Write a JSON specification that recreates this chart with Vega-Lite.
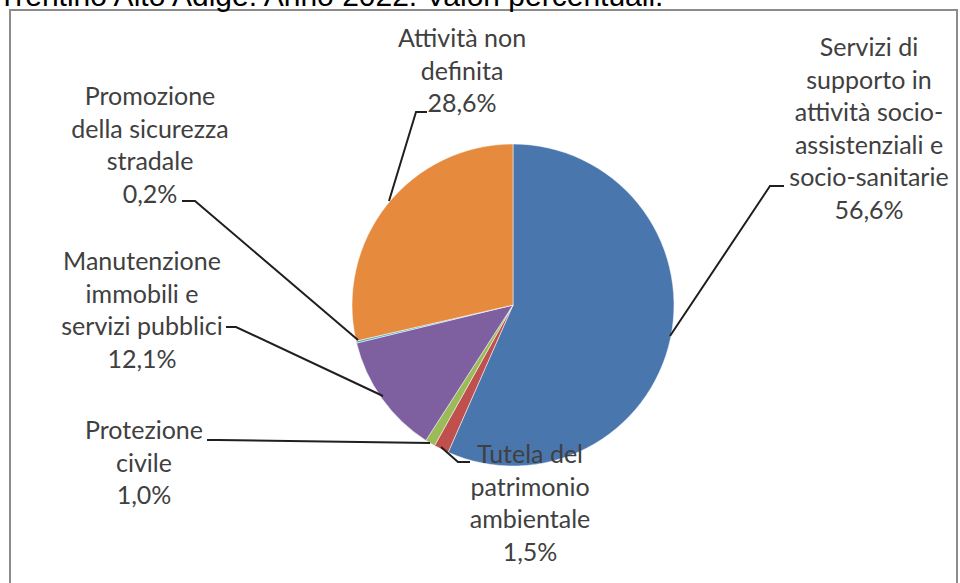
{
  "$schema": "https://vega.github.io/schema/vega-lite/v6.json",
  "autosize": "none",
  "width": 947,
  "height": 576,
  "padding": {"left": 10, "top": 10, "right": 3, "bottom": -3},
  "background": "white",
  "config": {"view": {"stroke": "#8c8c8c", "strokeWidth": 2}},
  "datasets": {
    "heading": [
      {"text": "Trentino Alto Adige. Anno 2022. Valori percentuali.", "tx": -515, "ty": -299}
    ],
    "shares": [
      {"category": "Servizi di supporto in attività socio-assistenziali e socio-sanitarie", "value": 56.6, "rank": 1},
      {"category": "Tutela del patrimonio ambientale", "value": 1.5, "rank": 2},
      {"category": "Protezione civile", "value": 1.0, "rank": 3},
      {"category": "Manutenzione immobili e servizi pubblici", "value": 12.1, "rank": 4},
      {"category": "Promozione della sicurezza stradale", "value": 0.2, "rank": 5},
      {"category": "Attività non definita", "value": 28.6, "rank": 6}
    ],
    "labels": [
      {"category": "Servizi di supporto in attività socio-assistenziali e socio-sanitarie", "text": "Servizi di\nsupporto in\nattività socio-\nassistenziali e\nsocio-sanitarie\n56,6%", "lx": 356, "ly": -257},
      {"category": "Attività non definita", "text": "Attività non\ndefinita\n28,6%", "lx": -51, "ly": -266},
      {"category": "Promozione della sicurezza stradale", "text": "Promozione\ndella sicurezza\nstradale\n0,2%", "lx": -363, "ly": -208},
      {"category": "Manutenzione immobili e servizi pubblici", "text": "Manutenzione\nimmobili e\nservizi pubblici\n12,1%", "lx": -371, "ly": -43},
      {"category": "Protezione civile", "text": "Protezione\ncivile\n1,0%", "lx": -369, "ly": 126},
      {"category": "Tutela del patrimonio ambientale", "text": "Tutela del\npatrimonio\nambientale\n1,5%", "lx": 17, "ly": 150}
    ],
    "leaders": [
      {"category": "Servizi", "seq": 1, "x": 157, "y": 31},
      {"category": "Servizi", "seq": 2, "x": 257, "y": -119},
      {"category": "Servizi", "seq": 3, "x": 271, "y": -119},
      {"category": "Attività", "seq": 1, "x": -124, "y": -104},
      {"category": "Attività", "seq": 2, "x": -97, "y": -193},
      {"category": "Attività", "seq": 3, "x": -86, "y": -193},
      {"category": "Promozione", "seq": 1, "x": -155, "y": 35},
      {"category": "Promozione", "seq": 2, "x": -318, "y": -104},
      {"category": "Promozione", "seq": 3, "x": -331, "y": -104},
      {"category": "Manutenzione", "seq": 1, "x": -130, "y": 91},
      {"category": "Manutenzione", "seq": 2, "x": -277, "y": 22},
      {"category": "Manutenzione", "seq": 3, "x": -287, "y": 22},
      {"category": "Protezione", "seq": 1, "x": -83, "y": 138},
      {"category": "Protezione", "seq": 2, "x": -295, "y": 135},
      {"category": "Protezione", "seq": 3, "x": -306, "y": 135},
      {"category": "Tutela", "seq": 1, "x": -72, "y": 142},
      {"category": "Tutela", "seq": 2, "x": -55, "y": 157},
      {"category": "Tutela", "seq": 3, "x": -43, "y": 157}
    ]
  },
  "layer": [
    {
      "data": {"name": "shares"},
      "mark": {"type": "arc", "outerRadius": 161, "stroke": "#ffffff", "strokeWidth": 0.5},
      "encoding": {
        "theta": {"field": "value", "type": "quantitative", "stack": true},
        "order": {"field": "rank", "type": "quantitative"},
        "color": {
          "field": "category",
          "type": "nominal",
          "legend": null,
          "scale": {
            "domain": [
              "Servizi di supporto in attività socio-assistenziali e socio-sanitarie",
              "Tutela del patrimonio ambientale",
              "Protezione civile",
              "Manutenzione immobili e servizi pubblici",
              "Promozione della sicurezza stradale",
              "Attività non definita"
            ],
            "range": ["#4A76AE", "#C0504D", "#9BBB59", "#7E60A0", "#4BACC6", "#E68A3E"]
          }
        },
        "x": {"datum": 0, "type": "quantitative", "scale": {"domain": [-503, 444], "nice": false, "zero": false}, "axis": null},
        "y": {"datum": 0, "type": "quantitative", "scale": {"domain": [-295, 281], "nice": false, "zero": false, "reverse": true}, "axis": null}
      }
    },
    {
      "data": {"name": "leaders"},
      "mark": {"type": "line", "stroke": "#1f1f1f", "strokeWidth": 2},
      "encoding": {
        "x": {"field": "x", "type": "quantitative"},
        "y": {"field": "y", "type": "quantitative"},
        "detail": {"field": "category", "type": "nominal"},
        "order": {"field": "seq", "type": "quantitative"}
      }
    },
    {
      "data": {"name": "labels"},
      "mark": {"type": "text", "font": "Lato", "fontSize": 25, "lineHeight": 32.5, "lineBreak": "\n", "align": "center", "baseline": "middle", "color": "#404040"},
      "encoding": {
        "x": {"field": "lx", "type": "quantitative"},
        "y": {"field": "ly", "type": "quantitative"},
        "text": {"field": "text", "type": "nominal"}
      }
    },
    {
      "data": {"name": "heading"},
      "mark": {"type": "text", "font": "Liberation Sans", "fontSize": 30, "align": "left", "baseline": "alphabetic", "color": "#000000"},
      "encoding": {
        "x": {"field": "tx", "type": "quantitative"},
        "y": {"field": "ty", "type": "quantitative"},
        "text": {"field": "text", "type": "nominal"}
      }
    }
  ]
}
